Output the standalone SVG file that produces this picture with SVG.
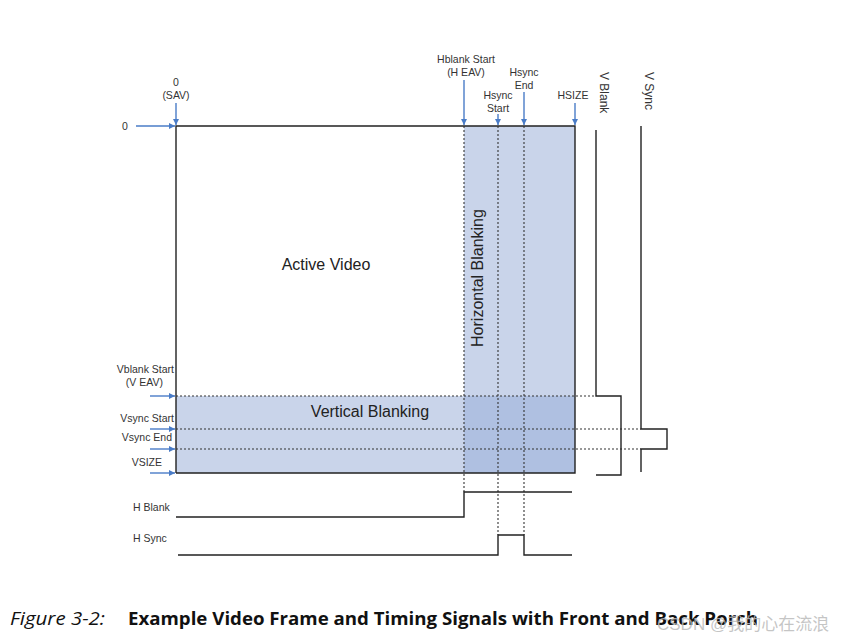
<svg xmlns="http://www.w3.org/2000/svg" width="864" height="642" viewBox="0 0 864 642">
<style>
.lbl{font-family:"Liberation Sans",Arial,sans-serif;font-size:10.5px;fill:#333}
.vl{font-family:"Liberation Sans",Arial,sans-serif;font-size:12px;fill:#333}
.big{font-family:"Liberation Sans",Arial,sans-serif;font-size:16px;fill:#222}
.sig{fill:none;stroke:#222;stroke-width:1.4}
.dot{fill:none;stroke:#333;stroke-width:1.1;stroke-dasharray:2 2}
.arr{fill:none;stroke:#4a7cc7;stroke-width:1.4;marker-end:url(#ah)}
</style>
<defs>
<marker id="ah" viewBox="0 0 10 10" refX="10" refY="5" markerWidth="6" markerHeight="6" orient="auto" markerUnits="userSpaceOnUse">
<path d="M0,0 L10,5 L0,10 z" fill="#4a7cc7"/>
</marker>
</defs>
<rect width="864" height="642" fill="#fff"/>
<g id="regions">
<rect x="464" y="126" width="111" height="347" fill="#c9d4ea"/>
<rect x="176" y="396" width="399" height="77" fill="#c9d4ea"/>
<rect x="464" y="396" width="111" height="77" fill="#afc0e1"/>
</g>
<g id="frame">
<path class="sig" d="M176,473 L176,126 L575,126 L575,473 L176,473" stroke="#333"/>
<text class="big" x="326" y="270" text-anchor="middle">Active Video</text>
<text class="big" x="370" y="417" text-anchor="middle" font-size="15">Vertical Blanking</text>
<text class="big" x="483" y="278" text-anchor="middle" font-size="15" transform="rotate(-90 483 278)">Horizontal Blanking</text>
</g>
<g id="connectors">
<path class="dot" d="M464,126 V492 M498,126 V535 M524,126 V535"/>
<path class="dot" d="M176,396 H596 M176,429 H641 M176,449 H641"/>
<path class="arr" d="M136,126 H175"/>
<path class="arr" d="M176,103 V125"/>
<path class="arr" d="M464,80 V125"/>
<path class="arr" d="M498,114 V125"/>
<path class="arr" d="M524,92 V125"/>
<path class="arr" d="M575,103 V125"/>
<path class="arr" d="M150,396 H175"/>
<path class="arr" d="M150,429 H175"/>
<path class="arr" d="M150,449 H175"/>
<path class="arr" d="M150,473 H175"/>
</g>
<g id="top-labels">
<text class="lbl" x="176" y="86" text-anchor="middle">0</text>
<text class="lbl" x="176" y="99" text-anchor="middle">(SAV)</text>
<text class="lbl" x="125" y="130" text-anchor="middle">0</text>
<text class="lbl" x="466" y="63" text-anchor="middle">Hblank Start</text>
<text class="lbl" x="466" y="76" text-anchor="middle">(H EAV)</text>
<text class="lbl" x="498" y="99" text-anchor="middle">Hsync</text>
<text class="lbl" x="498" y="112" text-anchor="middle">Start</text>
<text class="lbl" x="524" y="76" text-anchor="middle">Hsync</text>
<text class="lbl" x="524" y="89" text-anchor="middle">End</text>
<text class="lbl" x="573" y="99" text-anchor="middle">HSIZE</text>
<text class="vl" x="600" y="72" transform="rotate(90 600 72)">V Blank</text>
<text class="vl" x="645" y="72" transform="rotate(90 645 72)">V Sync</text>
</g>
<g id="left-labels">
<text class="lbl" x="174" y="373" text-anchor="end">Vblank Start</text>
<text class="lbl" x="163" y="386" text-anchor="end">(V EAV)</text>
<text class="lbl" x="174" y="422" text-anchor="end">Vsync Start</text>
<text class="lbl" x="172" y="441" text-anchor="end">Vsync End</text>
<text class="lbl" x="162" y="466" text-anchor="end">VSIZE</text>
<text class="lbl" x="133" y="511">H Blank</text>
<text class="lbl" x="133" y="542">H Sync</text>
</g>
<g id="vblank-signal">
<path class="sig" d="M596,130 V396 H621 V475 H596"/>
</g>
<g id="vsync-signal">
<path class="sig" d="M641,126 V429 H667 V449 H641 V472"/>
</g>
<g id="hblank-signal">
<path class="sig" d="M176,517 H464 V492 H572"/>
</g>
<g id="hsync-signal">
<path class="sig" d="M178,555 H498 V535 H524 V555 H572"/>
</g>
<g id="caption">
<text x="10" y="625" font-family="'Open Sans','Liberation Sans',sans-serif" font-style="italic" font-size="18" fill="#111" textLength="95" lengthAdjust="spacingAndGlyphs">Figure 3-2:</text>
<text x="128" y="625" font-family="'Open Sans','Liberation Sans',sans-serif" font-weight="bold" font-size="18" fill="#111" textLength="630" lengthAdjust="spacingAndGlyphs">Example Video Frame and Timing Signals with Front and Back Porch</text>
<text x="657" y="630" font-family="'Liberation Sans','Noto Sans CJK SC',sans-serif" font-size="17" fill="#bbb" fill-opacity="0.85">CSDN @我的心在流浪</text>
</g>
</svg>
